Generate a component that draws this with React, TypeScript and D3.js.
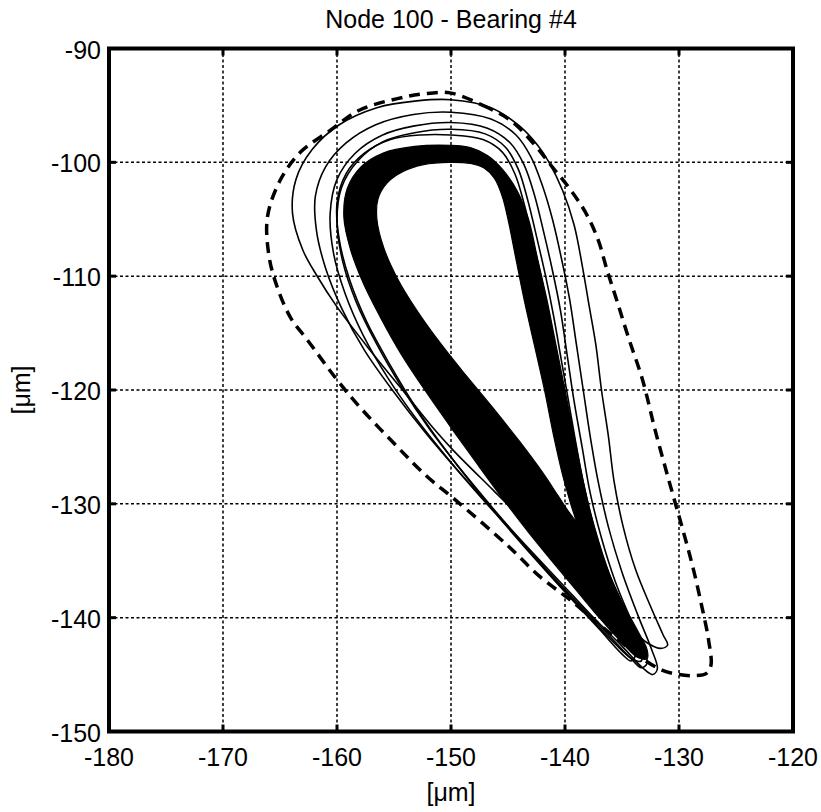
import React from "react";
import * as d3 from "d3";

type P = [number, number];

const title = "Node 100 - Bearing #4";
const xTicks = [-180, -170, -160, -150, -140, -130, -120];
const yTicks = [-90, -100, -110, -120, -130, -140, -150];

// dashed outer orbit
const dashedOrbit: P[] = [
  [-150.1, -93.9], [-147.2, -95], [-144.8, -96.3], [-142.8, -98.3], [-141.2, -100.3], [-139.6, -102.3],
  [-138.2, -104.4], [-137.1, -106.8], [-136.3, -109.5], [-135.4, -112.3], [-134.4, -115.5], [-133.2, -119.1],
  [-132.1, -123.5], [-130.9, -127.9], [-129.8, -131.8], [-128.8, -135.5], [-128, -139], [-127.4, -142],
  [-127.2, -144.2], [-127.6, -144.9], [-128.6, -145.1], [-130, -145], [-131.5, -144.6], [-133.2, -143.6],
  [-135, -142.2], [-137, -140.6], [-139.6, -138.4], [-142.2, -136.4], [-145.1, -133.6], [-149.8, -129.5],
  [-152.1, -127.6], [-154.7, -125], [-158, -121.5], [-160, -119.1], [-162.6, -115.6], [-164.1, -113.6],
  [-165.4, -110.5], [-166, -108], [-166.1, -104.8], [-165, -101.6], [-163.2, -99.1], [-160.6, -97.2],
  [-158, -95.4], [-154.7, -94.4], [-152.5, -94],
];

// transient solid orbits (outer to inner)
const orbit1: P[] = [
  [-150, -94.5], [-146.5, -95.2], [-144, -96.8], [-142.4, -98.5], [-141.4, -100], [-140.2, -102.5],
  [-139.2, -105.5], [-138.5, -109], [-137.9, -112.5], [-137.3, -116], [-136.8, -120], [-136.2, -124],
  [-135.7, -128], [-134.9, -132], [-133.8, -135.8], [-132.5, -139], [-131.4, -141.5], [-131, -142.4],
  [-131.6, -142.7], [-132.8, -142.2], [-135, -140.2], [-137.5, -137.6], [-140.5, -134.5], [-143.9, -131.2],
  [-146.3, -128.8], [-149.8, -125.3], [-151.6, -123.3], [-154.5, -119.7], [-157.1, -116.5], [-160, -112.7],
  [-161.8, -109.9], [-163, -107.7], [-163.9, -104.5], [-163.6, -101.5], [-162.2, -98.9], [-159.8, -96.7],
  [-156.5, -95.2], [-153, -94.6],
];
const orbit2: P[] = [
  [-150, -95.6], [-146.5, -96.2], [-144.3, -97.6], [-143, -99.5], [-142, -102], [-141.1, -105],
  [-140.3, -108.5], [-139.6, -112], [-139, -116], [-138.4, -120], [-137.8, -124], [-137.1, -128],
  [-136.2, -132], [-135, -136], [-133.6, -139.8], [-132.4, -142.8], [-131.9, -144.5], [-132.3, -145],
  [-133.2, -144.4], [-135, -142.5], [-137.5, -140], [-140.3, -137], [-143.3, -133.8], [-146.3, -130.5],
  [-149.3, -127.2], [-152.2, -123.8], [-155, -120.2], [-157.6, -116.5], [-159.6, -112.8], [-161, -109.3],
  [-161.8, -106], [-161.9, -103], [-161, -100.4], [-159.2, -98.3], [-156.6, -96.7], [-153.3, -95.8],
];
const orbit3: P[] = [
  [-150, -96.5], [-146.8, -97], [-144.8, -98.3], [-143.6, -100.2], [-142.7, -102.8], [-141.9, -106],
  [-141.1, -109.5], [-140.4, -113], [-139.8, -117], [-139.2, -121], [-138.5, -125], [-137.8, -129],
  [-136.8, -133], [-135.6, -136.8], [-134.3, -140], [-133.2, -142.5], [-132.8, -144], [-133.3, -144.4],
  [-134.2, -143.6], [-136.2, -141.5], [-138.8, -138.8], [-141.6, -135.8], [-144.5, -132.6], [-147.4, -129.4],
  [-150.3, -126], [-153, -122.6], [-155.5, -119], [-157.7, -115.2], [-159.3, -111.5], [-160.3, -108],
  [-160.6, -104.5], [-160, -101.5], [-158.4, -99.2], [-156, -97.6], [-153.2, -96.8],
];
const orbit4: P[] = [
  [-150, -97.1], [-147, -97.5], [-145.2, -98.7], [-144.1, -100.6], [-143.3, -103.2], [-142.5, -106.5],
  [-141.7, -110], [-141, -113.5], [-140.3, -117.5], [-139.6, -121.5], [-138.9, -125.5], [-138.1, -129.5],
  [-137, -133.5], [-135.7, -137.3], [-134.3, -140.5], [-133.4, -142.8], [-133.3, -143.8], [-134, -143.7],
  [-135.6, -142.3], [-138, -139.8], [-140.8, -136.8], [-143.6, -133.6], [-146.4, -130.3], [-149.2, -126.9],
  [-151.9, -123.4], [-154.3, -119.8], [-156.5, -116], [-158.3, -112.3], [-159.5, -108.7], [-160, -105.2],
  [-159.6, -102.2], [-158.2, -99.9], [-156, -98.2], [-153.2, -97.4],
];
const orbit5: P[] = [
  [-150, -97.6], [-147.2, -98], [-145.5, -99.1], [-144.4, -101], [-143.6, -103.6], [-142.8, -107],
  [-142, -110.5], [-141.3, -114], [-140.6, -118], [-139.9, -122], [-139.1, -126], [-138.3, -130],
  [-137.3, -134], [-136, -137.8], [-134.7, -141], [-133.8, -143.2], [-134.2, -143.8], [-135, -143.2],
  [-137, -141], [-139.5, -138.3], [-142.3, -135.2], [-145.1, -132], [-147.9, -128.6], [-150.6, -125.1],
  [-153.1, -121.5], [-155.4, -117.7], [-157.4, -114], [-158.9, -110.3], [-159.8, -106.8], [-160, -103.6],
  [-159.2, -101], [-157.6, -99.2], [-155.3, -98], [-152.7, -97.6],
];

// dense steady-state bundle: outer and inner envelopes
const bundleOuter: P[] = [
  [-150.1, -98.5], [-148.3, -98.7], [-146.8, -99.4], [-145.5, -100.6], [-144.2, -102.5], [-143.2, -105],
  [-142.4, -108.5], [-141.6, -112], [-140.8, -116], [-140, -120], [-139.2, -124], [-138.4, -128],
  [-137.5, -131.8], [-136.4, -135.4], [-135, -138.6], [-133.6, -141.2], [-132.8, -142.8], [-132.8, -143.6],
  [-133.6, -143.5], [-135, -142.2], [-137, -140], [-139, -137.6], [-141, -135.2], [-143.2, -132.5],
  [-145.5, -129.5], [-147.7, -126.5], [-150, -123.3], [-152.3, -120], [-154.4, -116.8], [-156.2, -113.6],
  [-157.7, -110.6], [-158.8, -107.7], [-159.4, -104.8], [-159.1, -102.3], [-157.9, -100.4], [-156, -99.2],
  [-153.2, -98.6],
];
const bundleInner: P[] = [
  [-150.1, -100], [-148.3, -100.1], [-147.1, -100.5], [-146.2, -101.4], [-145.5, -103], [-145, -105],
  [-144.4, -108], [-143.6, -112], [-142.7, -116], [-141.8, -120], [-141, -124], [-140.2, -127.5],
  [-139.5, -130], [-139.1, -131.4], [-139.6, -130.8], [-140.6, -129.3], [-142, -127.2], [-144, -124.5],
  [-146.3, -121.6], [-148.7, -118.7], [-151, -115.8], [-153, -113], [-154.7, -110.2], [-155.9, -107.5],
  [-156.5, -105], [-156.4, -103.2], [-155.6, -101.8], [-154.2, -100.8], [-152.4, -100.2],
];

const thinOrbits = [orbit1, orbit2, orbit3, orbit4, orbit5];

const W = 821;
const H = 812;
const left = 109;
const right = 793;
const top = 48.5;
const bottom = 731.5;
const FONT = "'Liberation Sans', Arial, Helvetica, sans-serif";

export default function App() {
  const x = d3.scaleLinear().domain([-180, -120]).range([left, right]);
  const y = d3.scaleLinear().domain([-90, -150]).range([top, bottom]);
  const line = d3
    .line<P>()
    .x((d) => x(d[0]))
    .y((d) => y(d[1]))
    .curve(d3.curveCatmullRomClosed.alpha(0.5));

  const bundlePath = (line(bundleOuter) || "") + (line(bundleInner) || "");
  const tickLen = 7;

  return (
    <svg
      width={W}
      height={H}
      style={{ position: "absolute", left: 0, top: 0, background: "#fff" }}
      fontFamily={FONT}
    >
      <rect x={0} y={0} width={W} height={H} fill="#fff" />
      {/* grid */}
      <g stroke="#000" strokeWidth={1.5} strokeDasharray="3,2.5">
        {xTicks.slice(1, -1).map((t) => (
          <line key={"gx" + t} x1={x(t)} x2={x(t)} y1={top} y2={bottom} />
        ))}
        {yTicks.slice(1, -1).map((t) => (
          <line key={"gy" + t} x1={left} x2={right} y1={y(t)} y2={y(t)} />
        ))}
      </g>
      <defs>
        <clipPath id="plotclip">
          <rect x={left} y={top} width={right - left} height={bottom - top} />
        </clipPath>
      </defs>
      <g clipPath="url(#plotclip)">
        <path d={bundlePath} fill="#000" fillRule="evenodd" stroke="#000" strokeWidth={1.2} />
        {thinOrbits.map((o, i) => (
          <path key={i} d={line(o) || ""} fill="none" stroke="#000" strokeWidth={1.6} />
        ))}
        <path
          d={line(dashedOrbit) || ""}
          fill="none"
          stroke="#000"
          strokeWidth={3.5}
          strokeDasharray="11,7"
        />
      </g>
      {/* ticks */}
      <g stroke="#000" strokeWidth={3}>
        {xTicks.map((t) => (
          <g key={"tx" + t}>
            <line x1={x(t)} x2={x(t)} y1={bottom} y2={bottom - tickLen} />
            <line x1={x(t)} x2={x(t)} y1={top} y2={top + tickLen} />
          </g>
        ))}
        {yTicks.map((t) => (
          <g key={"ty" + t}>
            <line x1={left} x2={left + tickLen} y1={y(t)} y2={y(t)} />
            <line x1={right} x2={right - tickLen} y1={y(t)} y2={y(t)} />
          </g>
        ))}
      </g>
      {/* box */}
      <rect
        x={left}
        y={top}
        width={right - left}
        height={bottom - top}
        fill="none"
        stroke="#000"
        strokeWidth={4}
      />
      {/* tick labels */}
      <g fontSize={25} fill="#000">
        {xTicks.map((t) => (
          <text key={"lx" + t} x={x(t)} y={766} textAnchor="middle">
            {t}
          </text>
        ))}
        {yTicks.map((t) => (
          <text key={"ly" + t} x={101} y={y(t) + 10} textAnchor="end">
            {t}
          </text>
        ))}
      </g>
      <text x={(left + right) / 2} y={28} textAnchor="middle" fontSize={25}>
        {title}
      </text>
      <text x={(left + right) / 2} y={801} textAnchor="middle" fontSize={25}>
        [μm]
      </text>
      <text
        transform={`translate(30,${(top + bottom) / 2}) rotate(-90)`}
        textAnchor="middle"
        fontSize={25}
      >
        [μm]
      </text>
    </svg>
  );
}
